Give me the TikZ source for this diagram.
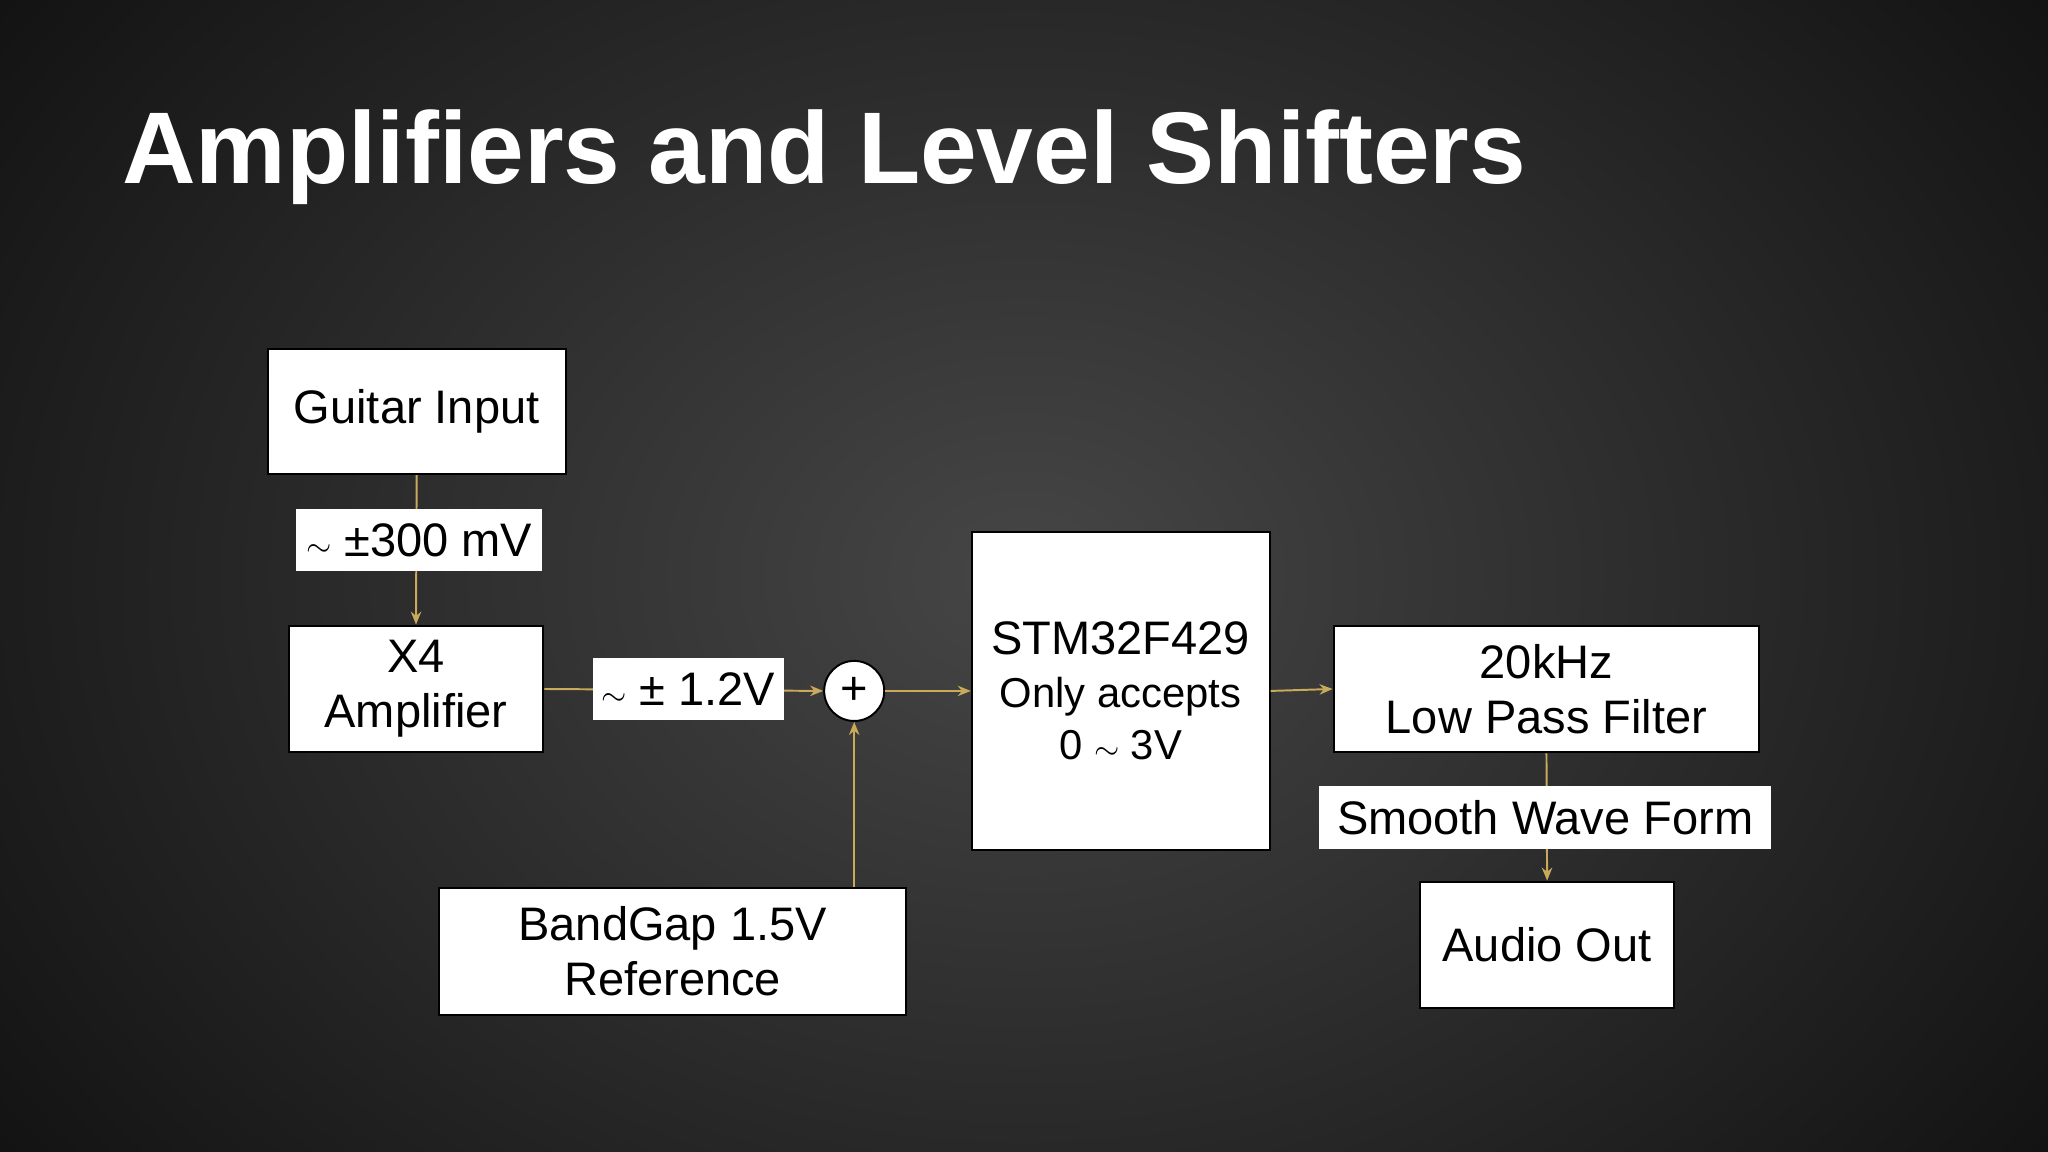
\documentclass[tikz,border=0pt]{standalone}
\usepackage{fontspec}
\setmainfont{Liberation Sans}
\usetikzlibrary{arrows.meta}
\definecolor{gold}{RGB}{200,170,90}
\definecolor{bgc}{RGB}{70,70,70}
\tikzset{
 blk/.style={draw=black,line width=1.5pt,fill=white,inner sep=0pt,align=center,font=\fontsize{36}{42}\selectfont},
 lbl/.style={fill=white,inner sep=0pt,font=\fontsize{36}{42}\selectfont},
 con/.style={draw=gold,line width=1.5pt,-{Stealth[length=10pt,width=8pt]}}
}
\begin{document}
\begin{tikzpicture}[x=1pt,y=-1pt]
\useasboundingbox (0,0) rectangle (1568,882);
\shade[inner color=bgc,outer color=black!95] (-300,-400) rectangle (1868,1282);
\node[anchor=west,text=white,font=\bfseries\fontsize{78}{90}\selectfont] (title) at (90,120) {Amplifiers and Level Shifters};
\node[blk,minimum width=228pt,minimum height=96pt] (gi) at (319,315) {Guitar Input};
\node[blk,minimum width=195pt,minimum height=97pt] (amp) at (318.5,527.5) {X4\\Amplifier};
\node[draw=black,fill=white,circle,minimum size=46pt,inner sep=0pt,line width=1.5pt,font=\fontsize{36}{42}\selectfont] (sum) at (654,529) {+};
\node[blk,minimum width=228pt,minimum height=244pt] (stm) at (858,529) {STM32F429\\[-2pt]{\fontsize{32}{40}\selectfont Only accepts}\\[-2pt]{\fontsize{32}{40}\selectfont 0 $\sim$ 3V}};
\node[blk,minimum width=326pt,minimum height=97pt] (lpf) at (1184,527.5) {20kHz\\Low Pass Filter};
\node[blk,minimum width=195pt,minimum height=97pt] (out) at (1184.5,723.5) {Audio Out};
\node[blk,minimum width=358pt,minimum height=97pt] (bg) at (515,728.5) {BandGap 1.5V\\Reference};
\draw[con] (gi.south) -- (amp.north);
\draw[con] (amp.east) -- (sum.west);
\draw[con] (bg.north -| sum) -- (sum.south);
\draw[con] (sum.east) -- (stm.west);
\draw[con] (stm.east) -- (lpf.west);
\draw[con] (lpf.south) -- (out.north);
\node[lbl,minimum width=188pt,minimum height=47pt] (l1) at (321,413.5) {$\sim$ ±300 mV};
\node[lbl,minimum width=146pt,minimum height=47pt] (l2) at (527,527.5) {$\sim$ ± 1.2V};
\node[lbl,minimum width=346pt,minimum height=48pt] (l3) at (1183,626) {Smooth Wave Form};
\end{tikzpicture}
\end{document}
